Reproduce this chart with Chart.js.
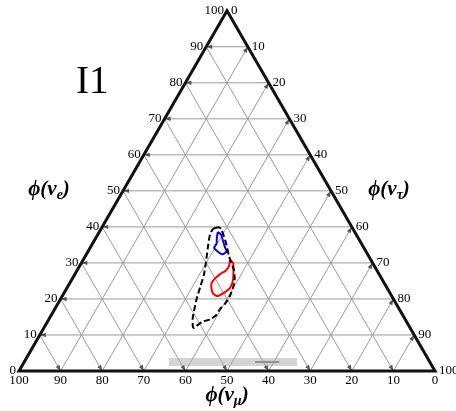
<!DOCTYPE html>
<html>
<head>
<meta charset="utf-8">
<script src="https://cdn.jsdelivr.net/npm/chart.js@4/dist/chart.umd.min.js"></script>
<style>
html,body{margin:0;padding:0;background:#fff;}
#wrap{width:456px;height:411px;position:relative;}
</style>
</head>
<body>
<div id="wrap"><canvas id="c"></canvas></div>
<script>
// Tick values (percent) for all three ternary axes
const tickValues = [0,10,20,30,40,50,60,70,80,90,100];
const gridValues = [10,20,30,40,50,60,70,80,90];

// Region contours, as flavour fractions in percent: phi(nu_e) and phi(nu_tau)
const blackE   = [39.7,39.9,39.4,37.6,35.0,32.2,30.3,28.1,25.3,23.1,20.6,18.6,17.2,15.6,14.3,13.8,12.8,11.9,12.2,14.7,17.4,20.0,23.3,26.7,30.3,33.9,37.8,39.4,39.7];
const blackTau = [27.3,28.0,28.9,30.4,32.4,34.3,35.8,37.6,39.2,39.9,40.3,40.2,39.7,39.7,38.8,37.4,36.6,36.2,35.7,34.4,33.5,32.7,31.9,31.1,29.8,28.4,27.0,26.9,27.3];

const blueE   = [38.6,37.8,36.1,34.4,33.2,32.4,32.9,34.2,35.4,36.9,38.6];
const blueTau = [28.5,29.7,31.0,32.3,33.3,32.8,31.6,29.8,29.8,29.1,28.5];

const redE   = [30.8,30.1,28.1,25.3,23.1,21.7,20.8,21.5,23.1,24.4,25.7,26.9,27.9,29.2,30.8];
const redTau = [35.3,36.4,37.5,38.8,39.2,38.4,37.2,35.9,34.7,34.1,34.3,34.9,35.8,35.9,35.3];

// Grey band and darker marker near the bottom
const bandE   = [2.5,2.5];
const bandTau = [34.8,65.6];
const markE   = [2.5,2.5];
const markTau = [55.5,61.3];

const S3 = Math.sqrt(3);
function toXY(e, tau){ return {x: tau/100 + e/200, y: e/100*S3/2}; }
function pts(E, T){ return E.map((e,i)=>toXY(e, T[i])); }

const ternaryPlugin = {
  id: 'ternary',
  beforeDatasetsDraw(chart){
    const ctx = chart.ctx, xs = chart.scales.x, ys = chart.scales.y;
    const P = (e,tau)=>{ const q = toXY(e,tau); return [xs.getPixelForValue(q.x), ys.getPixelForValue(q.y)]; };
    ctx.save();
    ctx.strokeStyle = '#9a9a9a';
    ctx.lineWidth = 1;
    ctx.beginPath();
    gridValues.forEach(v=>{
      let a=P(v,0), b=P(v,100-v); ctx.moveTo(a[0],a[1]); ctx.lineTo(b[0],b[1]);
      a=P(0,v); b=P(100-v,v); ctx.moveTo(a[0],a[1]); ctx.lineTo(b[0],b[1]);
      a=P(100-v,0); b=P(0,100-v); ctx.moveTo(a[0],a[1]); ctx.lineTo(b[0],b[1]);
    });
    ctx.stroke();
    // arrowheads
    ctx.fillStyle = '#555';
    const arrow = (tip, from)=>{
      let dx = tip[0]-from[0], dy = tip[1]-from[1];
      const L = Math.hypot(dx,dy); dx/=L; dy/=L;
      const len = 6, hw = 2.2;
      const bx = tip[0]-dx*len, by = tip[1]-dy*len;
      ctx.beginPath();
      ctx.moveTo(tip[0],tip[1]);
      ctx.lineTo(bx - dy*hw, by + dx*hw);
      ctx.lineTo(bx + dy*hw, by - dx*hw);
      ctx.closePath();
      ctx.fill();
    };
    gridValues.forEach(v=>{
      arrow(P(v,0), P(v,100-v));
      arrow(P(100-v,v), P(0,v));
      arrow(P(0,100-v), P(100-v,0));
    });
    ctx.restore();
  },
  afterDatasetsDraw(chart){
    const ctx = chart.ctx, xs = chart.scales.x, ys = chart.scales.y;
    const P = (e,tau)=>{ const q = toXY(e,tau); return [xs.getPixelForValue(q.x), ys.getPixelForValue(q.y)]; };
    ctx.save();
    // triangle edges
    const L = P(0,0), R = P(0,100), T = P(100,0);
    ctx.strokeStyle = '#111';
    ctx.lineWidth = 3;
    ctx.lineJoin = 'miter';
    ctx.beginPath();
    ctx.moveTo(L[0],L[1]); ctx.lineTo(T[0],T[1]); ctx.lineTo(R[0],R[1]); ctx.closePath();
    ctx.stroke();
    // tick labels
    ctx.fillStyle = '#000';
    ctx.font = '13px "Liberation Serif", "DejaVu Serif", serif';
    tickValues.forEach(v=>{
      let p = P(v,0);
      ctx.textAlign='right'; ctx.textBaseline='middle';
      ctx.fillText(String(v), p[0]-3, p[1]);
      p = P(100-v, v);
      ctx.textAlign='left'; ctx.textBaseline='middle';
      ctx.fillText(String(v), p[0]+4, p[1]);
      p = P(0, 100-v);
      ctx.textAlign='center'; ctx.textBaseline='top';
      ctx.fillText(String(v), p[0], p[1]+3);
    });
    // axis titles
    const title = (cx, cy, sub)=>{
      const big = 'bold italic 21px "Liberation Serif", "DejaVu Serif", serif';
      const small = 'bold italic 14px "Liberation Serif", "DejaVu Serif", serif';
      ctx.font = big; const w1 = ctx.measureText('\u03D5(\u03BD').width;
      ctx.font = small; const w2 = ctx.measureText(sub).width;
      ctx.font = big; const w3 = ctx.measureText(')').width;
      let x = cx - (w1+w2+w3)/2;
      ctx.textAlign='left'; ctx.textBaseline='middle';
      ctx.font = big; ctx.fillText('\u03D5(\u03BD', x, cy); x += w1;
      ctx.font = small; ctx.fillText(sub, x, cy+5); x += w2;
      ctx.font = big; ctx.fillText(')', x, cy);
    };
    title(49, 190, 'e');
    title(389, 190, '\u03C4');
    title(227, 396, '\u03BC');
    // panel label
    ctx.font = '39px "Liberation Serif", "DejaVu Serif", serif';
    ctx.textAlign='left'; ctx.textBaseline='alphabetic';
    ctx.fillText('I1', 76, 93);
    ctx.restore();
  }
};

new Chart(document.getElementById('c'), {
  type: 'scatter',
  data: {
    datasets: [
      {data: pts(bandE, bandTau), showLine:true, borderColor:'rgba(170,170,170,0.5)', borderWidth:8, borderCapStyle:'butt', pointRadius:0},
      {data: pts(markE, markTau), showLine:true, borderColor:'#7a7a7a', borderWidth:2, pointRadius:0},
      {data: pts(blackE, blackTau), showLine:true, borderColor:'#000', borderWidth:2, borderDash:[6,3], pointRadius:0, tension:0.2},
      {data: pts(blueE, blueTau), showLine:true, borderColor:'#0000ff', borderWidth:2, pointRadius:0, tension:0.2},
      {data: pts(redE, redTau), showLine:true, borderColor:'#ff0000', borderWidth:2, pointRadius:0, tension:0.2}
    ]
  },
  options: {
    responsive: true,
    maintainAspectRatio: false,
    animation: false,
    events: [],
    layout: {padding: 0},
    plugins: {legend:{display:false}, tooltip:{enabled:false}, title:{display:false}},
    scales: {
      x: {type:'linear', display:false, min:-19/416, max:437/416},
      y: {type:'linear', display:false, min:-40/416, max:371/416}
    }
  },
  plugins: [ternaryPlugin]
});
</script>
</body>
</html>
